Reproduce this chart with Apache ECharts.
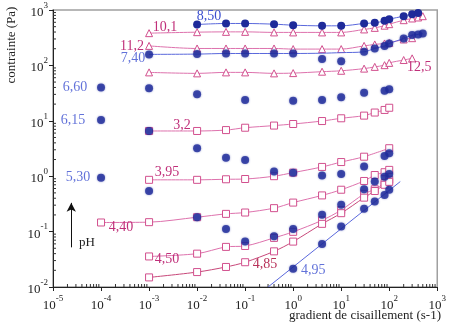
<!DOCTYPE html>
<html><head><meta charset="utf-8">
<script src="https://cdn.jsdelivr.net/npm/echarts@6/dist/echarts.min.js"></script>
<style>html,body{margin:0;padding:0;background:#fff}#c{width:449px;height:324px}</style>
</head><body><div id="c"></div>
<script>
// shear rate grid (s-1)
const xs = [1e-4, 1e-3, 1e-2, 0.04, 0.1, 0.4, 1, 4, 10, 30, 50, 80, 100, 200, 300, 400, 500];
// blue filled circles (stress, Pa)
const b850 = [null, null, 548, 571, 571, 555, 532, 518, 518, 571, 586, 637, 683, 773, 840, 887, null];
const b740 = [null, 158, 160, 164, 164, 164, 164, 130, 119, 176, 202, 225, 249, 306, 352, 362, 377];
const f740 = [null, 158, 160, 164, 164, 164, 164, 166, 170, 176, 202, 225, 249, 306, 352, 362, 377];
const b660 = [40.1, 38.5, 30, null, 23.7, null, 23, 23.7, 26.5, 32.1, null, 34.9, 37, null, null, null, null];
const b615 = [10.3, 6.55, 3.2, 2.16, 1.97, 1.21, 1.16, 1.03, 1.10, 1.49, null, 2.32, 2.6, null, null, null, null];
const b530 = [0.94, 0.54, 0.182, 0.111, 0.066, 0.082, 0.111, 0.201, 0.304, 0.58, 0.80, 0.98, 1.10, null, null, null, null];
const b495 = [null, null, null, null, null, null, 0.0214, 0.060, 0.124, 0.258, 0.35, 0.46, 0.57, null, null, null, null];
const fit495X = [0.3, 170];
const fit495Y = [0.01, 0.8];
// pink open triangles
const t101 = [null, 382, 398, 403, 403, 394, 394, 394, 394, 446, 476, 521, 555, 655, 703, 733, 773];
const t112 = [null, 225, 202, 202, 202, 202, 197, 197, 197, 225, 239, 249, 255, 294, 310, null, null];
const t125 = [null, 74.8, 71.8, 74.8, 74.8, 71.8, 72.6, 77, 80, 87.5, 94, 101, 111, 125, 134, null, null];
// pink open squares
const s32 = [null, 6.55, 6.55, 6.8, 7.5, 8.2, 8.75, 9.9, 11.1, 12.4, 14.1, 15.7, 17.2, null, null, null, null];
const s395 = [null, 0.86, 0.86, 0.88, 0.89, 1.0, 1.16, 1.47, 1.8, 2.25, null, null, 3.2, null, null, null, null];
const s440 = [0.146, 0.148, 0.182, 0.209, 0.221, 0.265, 0.334, 0.45, 0.57, 0.82, 1.05, 1.18, 1.30, null, null, null, null];
const s450 = [null, 0.0356, 0.040, 0.053, 0.055, 0.077, 0.099, 0.16, 0.245, 0.48, 0.58, 0.75, 0.86, null, null, null, null];
const s485 = [null, 0.0149, 0.0186, 0.023, 0.028, 0.044, 0.066, 0.138, 0.215, 0.41, 0.54, 0.70, 0.79, null, null, null, null];
// axis ranges (decades)
const xDecades = [-5, 3];
const yDecades = [-2, 3];
// pH arrow (data coords)
const arrowX = 2.4e-5, arrowY = [0.052, 0.33];

const SERIF = 'Liberation Serif';
const BLUE = '#1e2a9a', BLUE_TXT = '#3b4fd0', BLUE_LINE = '#5a68dc';
const PINK = '#d2508e', PINK_TXT = '#c0307a', PINK_LINE = '#de72ad';

function pts(ys, xv) {
  xv = xv || xs;
  return xv.map((x, i) => ys[i] == null ? null : [x, ys[i]]).filter(Boolean);
}
function lab(data, idx, text, off, color) {
  const d = data.slice();
  d[idx] = { value: data[idx], label: { show: true, formatter: text, position: 'inside', offset: off,
    color: color, fontFamily: SERIF, fontSize: 14 } };
  return d;
}
function pinkLine(name, ys, symbol, li, text, off, color, lineColor) {
  return { type: 'line', name, data: lab(pts(ys), li, text, off, color || PINK_TXT), symbol, symbolSize: 7,
    showAllSymbol: true, smooth: 0.3, z: 3,
    itemStyle: { color: '#fff', borderColor: PINK, borderWidth: 1 },
    lineStyle: { color: lineColor || PINK_LINE, width: 1 } };
}
function blueScatter(name, ys, li, text, off) {
  return { type: 'scatter', name, data: lab(pts(ys), li, text, off, BLUE_TXT), symbol: 'circle', symbolSize: 8, z: 5,
    itemStyle: { color: BLUE, shadowBlur: 2, shadowColor: 'rgba(30,42,154,0.6)' } };
}

const minorX = [], minorY = [];
for (let e = xDecades[0]; e < xDecades[1]; e++) for (let k = 2; k <= 9; k++) minorX.push([k * Math.pow(10, e), Math.pow(10, yDecades[0])]);
for (let e = yDecades[0]; e < yDecades[1]; e++) for (let k = 2; k <= 9; k++) minorY.push([Math.pow(10, xDecades[0]), k * Math.pow(10, e)]);

const supFmt = v => { const e = Math.round(Math.log10(v)); return '{b|10}{e|' + e + '}'; };
const rich = { b: { fontFamily: SERIF, fontSize: 13, color: '#222', lineHeight: 18, verticalAlign: 'bottom' },
               e: { fontFamily: SERIF, fontSize: 9, color: '#222', lineHeight: 18, verticalAlign: 'top' } };

const series = [
  { type: 'line', name: '8,50', data: lab(pts(b850), 0, '8,50', [12, -8], BLUE_TXT), symbol: 'circle', symbolSize: 8, showAllSymbol: true,
    smooth: 0.3, z: 5, itemStyle: { color: BLUE }, lineStyle: { color: BLUE_LINE, width: 1 } },
  { type: 'line', name: 'fit7,40', data: pts(f740), showSymbol: false, smooth: 0.3, z: 4, lineStyle: { color: BLUE_LINE, width: 1 } },
  blueScatter('7,40', b740, 0, '7,40', [-16, 4]),
  blueScatter('6,60', b660, 0, '6,60', [-26, 0]),
  blueScatter('6,15', b615, 0, '6,15', [-28, 0]),
  Object.assign(blueScatter('5,30', b530, 0, '5,30', [-23, 0]), {
    markLine: { silent: true, symbol: ['none', 'arrow'], symbolSize: [7, 9], label: { show: false },
      lineStyle: { color: '#111', width: 1, type: 'solid' },
      data: [[{ coord: [arrowX, arrowY[0]] }, { coord: [arrowX, arrowY[1]] }]] } }),
  { type: 'line', name: 'fit4,95', data: pts(fit495Y, fit495X), showSymbol: false, z: 4, lineStyle: { color: BLUE_LINE, width: 1 } },
  blueScatter('4,95', b495, 0, '4,95', [20, 2]),
  pinkLine('10,1', t101, 'triangle', 0, '10,1', [16, -6]),
  pinkLine('11,2', t112, 'triangle', 0, '11,2', [-17, 0]),
  pinkLine('12,5', t125, 'triangle', 13, '12,5', [7, 9]),
  pinkLine('3,2', s32, 'rect', 1, '3,2', [-15, -6]),
  pinkLine('3,95', s395, 'rect', 0, '3,95', [18, -7.5]),
  pinkLine('4,40', s440, 'rect', 0, '4,40', [20, 5]),
  pinkLine('4,50', s450, 'rect', 0, '4,50', [18, 3]),
  pinkLine('4,85', s485, 'rect', 4, '4,85', [-9, 13], '#b8325a', '#c8487a'),
  { type: 'custom', name: 'minorX', data: minorX, clip: false, silent: true, z: 2,
    renderItem: (p, api) => { const c = api.coord([api.value(0), api.value(1)]);
      return { type: 'line', shape: { x1: c[0], y1: c[1], x2: c[0], y2: c[1] - 3 }, style: { stroke: '#333', lineWidth: 1 } }; } },
  { type: 'custom', name: 'minorY', data: minorY, clip: false, silent: true, z: 2,
    renderItem: (p, api) => { const c = api.coord([api.value(0), api.value(1)]);
      return { type: 'line', shape: { x1: c[0], y1: c[1], x2: c[0] + 3, y2: c[1] }, style: { stroke: '#333', lineWidth: 1 } }; } }
];

const chart = echarts.init(document.getElementById('c'), null, { renderer: 'canvas' });
chart.setOption({
  animation: false,
  backgroundColor: '#fff',
  grid: { left: 53, right: 7, top: 10, bottom: 37, show: true, borderColor: '#a0a0a0', borderWidth: 1.5 },
  xAxis: { type: 'log', min: Math.pow(10, xDecades[0]), max: Math.pow(10, xDecades[1]), splitNumber: 8,
    axisLine: { lineStyle: { color: '#222', width: 1 } }, axisTick: { inside: false, length: 4, lineStyle: { color: '#222' } },
    splitLine: { show: false }, axisLabel: { formatter: supFmt, rich: rich, margin: 7 } },
  yAxis: { type: 'log', min: Math.pow(10, yDecades[0]), max: Math.pow(10, yDecades[1]), splitNumber: 5,
    axisLine: { lineStyle: { color: '#222', width: 1 } }, axisTick: { inside: false, length: 4, lineStyle: { color: '#222' } },
    splitLine: { show: false }, axisLabel: { formatter: supFmt, rich: rich, margin: 5 } },
  graphic: [
    { type: 'text', x: 12, y: 45, rotation: Math.PI / 2, style: { text: 'contrainte (Pa)', fontFamily: SERIF, fontSize: 13, fill: '#222', textAlign: 'center', textVerticalAlign: 'middle' } },
    { type: 'text', x: 441, y: 316, style: { text: 'gradient de cisaillement (s-1)', fontFamily: SERIF, fontSize: 13, fill: '#222', textAlign: 'right', textVerticalAlign: 'middle' } },
    { type: 'text', x: 79, y: 243, style: { text: 'pH', fontFamily: SERIF, fontSize: 13, fill: '#222', textAlign: 'left', textVerticalAlign: 'middle' } }
  ],
  series: series
});
</script></body></html>
